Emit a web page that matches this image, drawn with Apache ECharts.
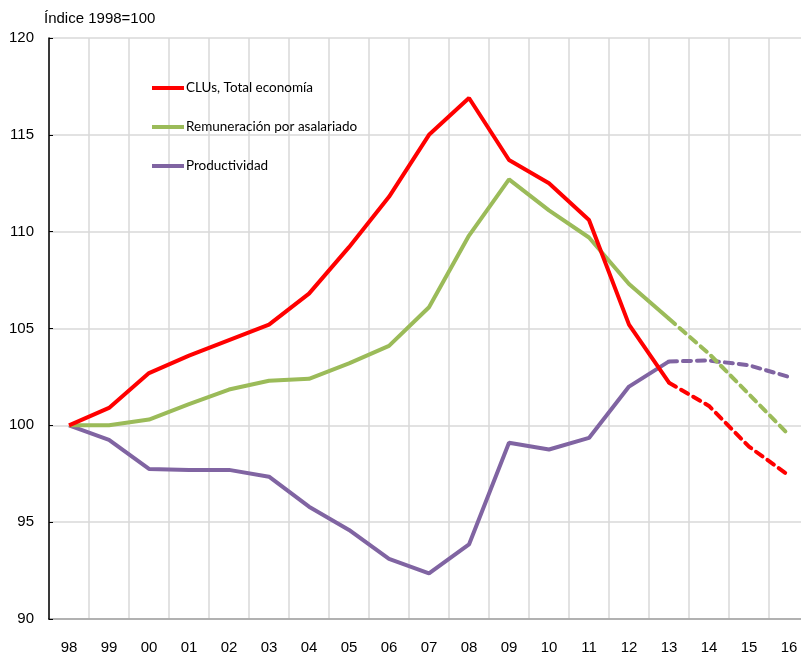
<!DOCTYPE html>
<html>
<head>
<meta charset="utf-8">
<script src="https://cdn.jsdelivr.net/npm/echarts@6/dist/echarts.min.js"></script>
<style>html,body{margin:0;padding:0;background:#fff;overflow:hidden;width:801px;height:658px}#c{width:820px;height:658px}</style>
</head>
<body>
<div id="c"></div>
<script>
var categories = ['98','99','00','01','02','03','04','05','06','07','08','09','10','11','12','13','14','15','16'];
var clus = [100, 100.9, 102.7, 103.6, 104.4, 105.2, 106.8, 109.2, 111.8, 115.0, 116.9, 113.7, 112.5, 110.6, 105.2, 102.2, 101.0, 98.9, 97.4];
var remuneracion = [100, 100.0, 100.3, 101.1, 101.85, 102.3, 102.4, 103.2, 104.1, 106.1, 109.8, 112.7, 111.1, 109.7, 107.3, 105.5, 103.7, 101.6, 99.5];
var productividad = [100, 99.25, 97.75, 97.7, 97.7, 97.35, 95.8, 94.6, 93.1, 92.35, 93.85, 99.1, 98.75, 99.35, 102.0, 103.3, 103.35, 103.1, 102.5];
var lastActual = 15; // index of '13': projections (dashed) start here
var names = ['CLUs, Total economía', 'Remuneración por asalariado', 'Productividad'];
var colors = ['#ff0000', '#9bbb59', '#8064a2'];

function solidPart(arr){ return arr.map(function(v,i){ return i <= lastActual ? v : null; }); }
function dashPart(arr){ return arr.map(function(v,i){ return i >= lastActual ? v : null; }); }

var FONT = '"Liberation Sans", Arial, sans-serif';
var all = [clus, remuneracion, productividad];
var series = [];
all.forEach(function(arr, k){
  series.push({
    name: names[k], type: 'line', data: solidPart(arr), symbol: 'none',
    lineStyle: {color: colors[k], width: 4}, itemStyle: {color: colors[k]},
    z: 5 - k, animation: false
  });
});
all.forEach(function(arr, k){
  series.push({
    name: names[k] + ' (proy.)', type: 'line', data: dashPart(arr), symbol: 'none',
    lineStyle: {color: colors[k], width: 4, type: [8, 6], cap: 'round'}, itemStyle: {color: colors[k]},
    z: 5 - k, animation: false
  });
});

var chart = echarts.init(document.getElementById('c'), null, {renderer: 'canvas'});
chart.setOption({
  animation: false,
  backgroundColor: '#ffffff',
  title: {
    text: 'Índice 1998=100', left: 44, top: 11, padding: 0,
    textStyle: {fontFamily: FONT, fontSize: 15, fontWeight: 'normal', color: '#000'}
  },
  legend: {
    data: names, orient: 'vertical', left: 152, top: 79, padding: 0,
    icon: 'rect', itemWidth: 32, itemHeight: 4, itemGap: 21,
    textStyle: {fontFamily: 'Lato, "Liberation Sans", sans-serif', fontSize: 13.5, color: '#000', lineHeight: 18, padding: [0,0,0,-3]}
  },
  grid: {left: 49, top: 38, width: 760, height: 581, containLabel: false},
  xAxis: {
    type: 'category', data: categories, boundaryGap: true, z: 1,
    axisLine: {lineStyle: {color: '#000', width: 1.5}},
    axisTick: {inside: true, length: 7, lineStyle: {color: '#000', width: 1}},
    axisLabel: {fontFamily: FONT, fontSize: 15, color: '#000', margin: 21},
    splitLine: {show: true, lineStyle: {color: '#d9d9d9', width: 1.5}}
  },
  yAxis: {
    type: 'value', min: 90, max: 120, interval: 5, z: 2,
    axisLine: {show: true, lineStyle: {color: '#000', width: 1.5}},
    axisTick: {show: true, inside: true, length: 4, lineStyle: {color: '#000', width: 1}},
    axisLabel: {fontFamily: FONT, fontSize: 15, color: '#000', margin: 15},
    splitLine: {show: true, lineStyle: {color: '#d9d9d9', width: 1.5}}
  },
  series: series
});
</script>
</body>
</html>
